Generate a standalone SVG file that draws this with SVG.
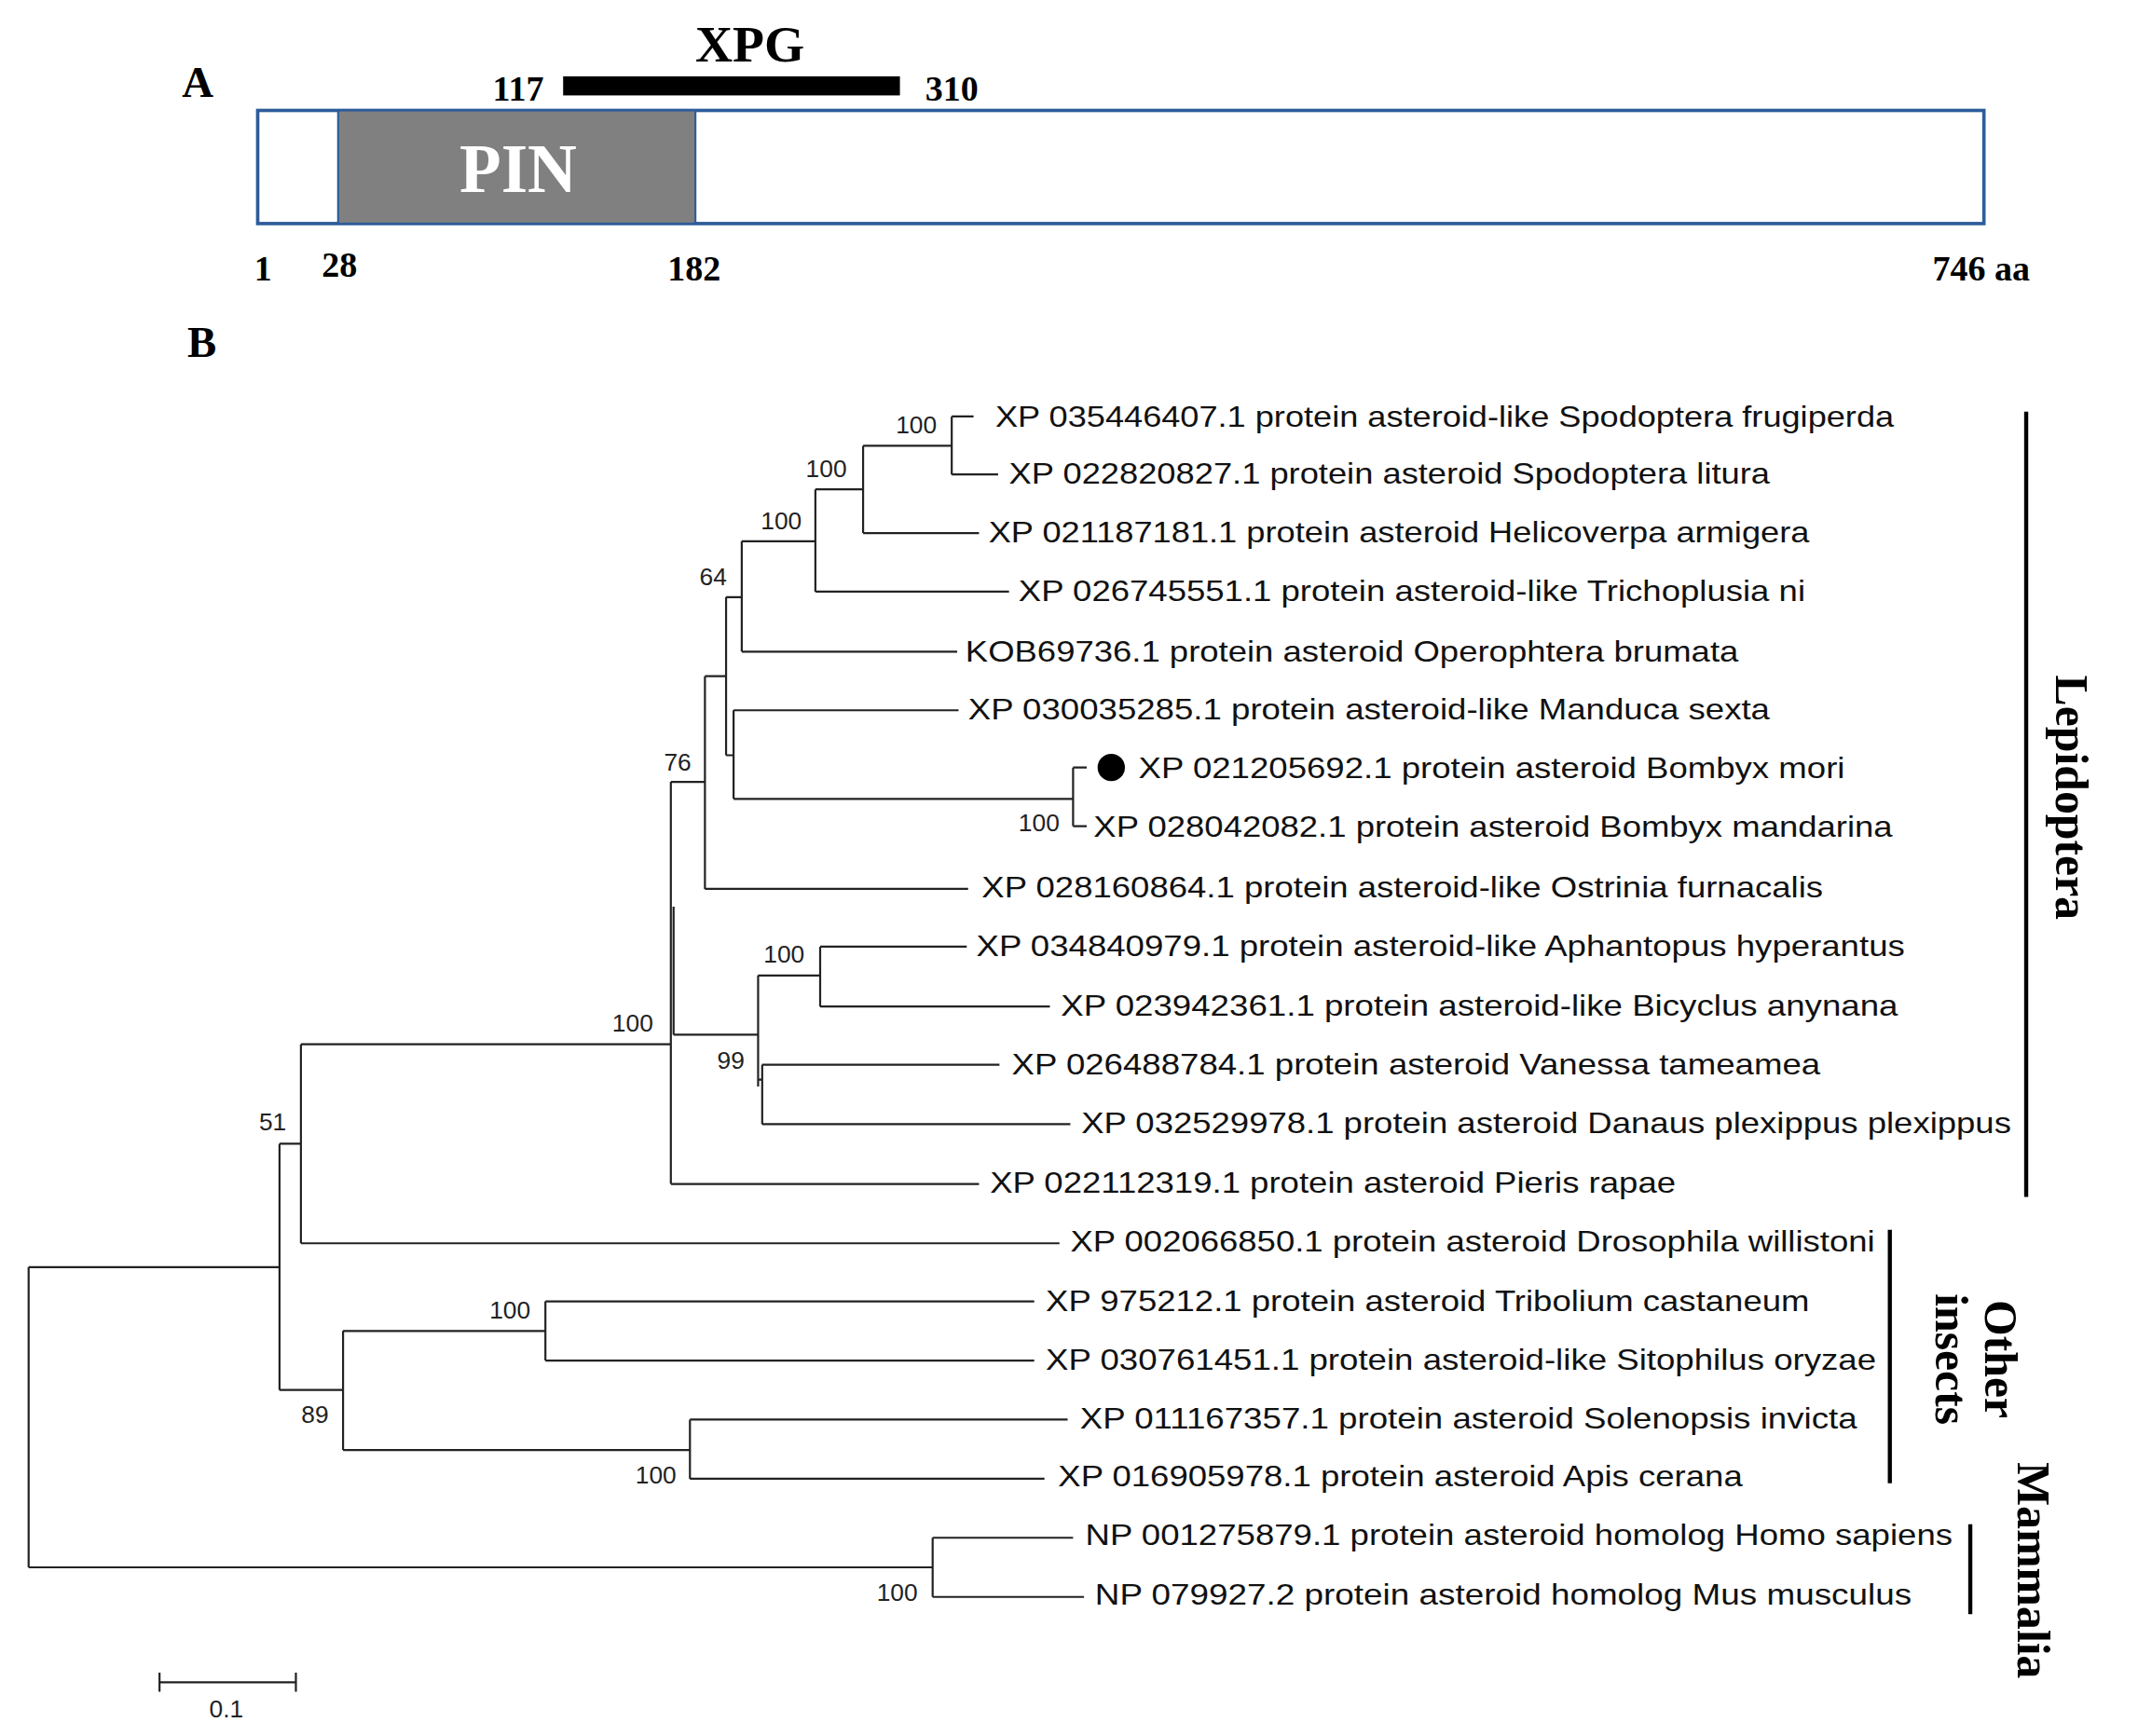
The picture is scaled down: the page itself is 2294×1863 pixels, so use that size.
<svg xmlns="http://www.w3.org/2000/svg" width="2294" height="1863" viewBox="0 0 2294 1863">
<style>
.ser{font-family:"Liberation Serif","DejaVu Serif",serif;font-weight:bold;fill:#000}
.lf{font-family:"Liberation Sans",Arial,sans-serif;font-size:22px;fill:#111}
.bs{font-family:"Liberation Sans",Arial,sans-serif;font-size:18px;fill:#222;text-anchor:middle}
.br{stroke:#222;stroke-width:1.5;fill:none}
.bar{stroke:#000;stroke-width:3;fill:none}
</style>
<rect width="2294" height="1863" fill="#fff"/>
<g transform="scale(1.46301)">
<g id="panelA">
<text class="ser" x="145" y="71" font-size="32" text-anchor="middle">A</text>
<rect x="189" y="81" width="1266" height="83" fill="#fff" stroke="#2e5c9a" stroke-width="2.5"/>
<g id="pin"><rect x="248" y="81" width="262" height="83" fill="#808080" stroke="#2e5c9a" stroke-width="1.5"/>
<text class="ser" x="380" y="141" font-size="50" text-anchor="middle" fill="#fff" style="fill:#fff">PIN</text></g>
<g id="xpg"><rect x="413" y="56" width="247" height="14" fill="#000"/>
<text class="ser" x="550" y="45" font-size="38" text-anchor="middle">XPG</text>
<text class="ser" x="380" y="74" font-size="26" text-anchor="middle">117</text>
<text class="ser" x="698" y="74" font-size="26" text-anchor="middle">310</text></g>
<text class="ser" x="193" y="206" font-size="26" text-anchor="middle">1</text>
<text class="ser" x="249" y="203" font-size="26" text-anchor="middle">28</text>
<text class="ser" x="509" y="206" font-size="26" text-anchor="middle">182</text>
<text class="ser" x="1453" y="206" font-size="26" text-anchor="middle">746 aa</text>
</g>
<text class="ser" x="148" y="262" font-size="32" text-anchor="middle">B</text>
<g id="connectors" class="br">
<path d="M21,929.5V1149.7M21,929.5H205M21,1149.7H684"/>
<path d="M205,839V1019.6M205,839H220.7M205,1019.6H251.6"/>
<path d="M220.7,766V912M220.7,766H492M220.7,912H777"/>
<path d="M492,573.5V868.5M494,665V759M492,573.5H517M492,868.5H718M494,759H556"/>
<path d="M517,496V652M517,496H532.5M517,652H710"/>
<path d="M532.5,438V554M532.5,438H544M532.5,554H538"/>
<path d="M544,397V478M544,397H598M544,478H702"/>
<path d="M598,359V434M598,359H633M598,434H740"/>
<path d="M633,327V391M633,327H698M633,391H718"/>
<path d="M698,305.5V348M698,305.5H714M698,348H732"/>
<path d="M538,521V586M538,521H703M538,586H787"/>
<path d="M787,563V606M787,563H797M787,606H797"/>
<path d="M556,715.5V797M556,715.5H601.5M556,792H559"/>
<path d="M601.5,694.4V738.3M601.5,694.4H709M601.5,738.3H770"/>
<path d="M559,781V824.6M559,781H733M559,824.6H785"/>
<path d="M251.6,976.3V1063.6M251.6,976.3H400M251.6,1063.6H506"/>
<path d="M400,954.6V998M400,954.6H758.5M400,998H758.5"/>
<path d="M506,1041.3V1084.7M506,1041.3H783M506,1084.7H766"/>
<path d="M684,1128V1171.4M684,1128H787M684,1171.4H795"/>
<path d="M117,1234H217M117,1227V1241M217,1227V1241"/>
</g>
<text class="bs" x="166" y="1260">0.1</text>
<g id="bootstrap">
<text class="bs" x="672" y="318">100</text>
<text class="bs" x="606" y="350">100</text>
<text class="bs" x="573" y="388">100</text>
<text class="bs" x="523" y="429">64</text>
<text class="bs" x="497" y="565">76</text>
<text class="bs" x="762" y="610">100</text>
<text class="bs" x="575" y="706">100</text>
<text class="bs" x="464" y="757">100</text>
<text class="bs" x="536" y="784">99</text>
<text class="bs" x="200" y="829">51</text>
<text class="bs" x="374" y="967">100</text>
<text class="bs" x="231" y="1044">89</text>
<text class="bs" x="481" y="1088">100</text>
<text class="bs" x="658" y="1174">100</text>
</g>
<g id="leaves">
<text class="lf" x="730" y="313" textLength="659" lengthAdjust="spacingAndGlyphs">XP 035446407.1 protein asteroid-like Spodoptera frugiperda</text>
<text class="lf" x="740" y="355" textLength="558" lengthAdjust="spacingAndGlyphs">XP 022820827.1 protein asteroid Spodoptera litura</text>
<text class="lf" x="725" y="398" textLength="602" lengthAdjust="spacingAndGlyphs">XP 021187181.1 protein asteroid Helicoverpa armigera</text>
<text class="lf" x="747" y="441" textLength="577" lengthAdjust="spacingAndGlyphs">XP 026745551.1 protein asteroid-like Trichoplusia ni</text>
<text class="lf" x="708" y="485" textLength="567" lengthAdjust="spacingAndGlyphs">KOB69736.1 protein asteroid Operophtera brumata</text>
<text class="lf" x="710" y="528" textLength="588" lengthAdjust="spacingAndGlyphs">XP 030035285.1 protein asteroid-like Manduca sexta</text>
<circle cx="815" cy="563" r="10" fill="#000"/>
<text class="lf" x="835" y="571" textLength="518" lengthAdjust="spacingAndGlyphs">XP 021205692.1 protein asteroid Bombyx mori</text>
<text class="lf" x="802" y="614" textLength="586" lengthAdjust="spacingAndGlyphs">XP 028042082.1 protein asteroid Bombyx mandarina</text>
<text class="lf" x="720" y="658" textLength="617" lengthAdjust="spacingAndGlyphs">XP 028160864.1 protein asteroid-like Ostrinia furnacalis</text>
<text class="lf" x="716" y="701" textLength="681" lengthAdjust="spacingAndGlyphs">XP 034840979.1 protein asteroid-like Aphantopus hyperantus</text>
<text class="lf" x="778" y="745" textLength="614" lengthAdjust="spacingAndGlyphs">XP 023942361.1 protein asteroid-like Bicyclus anynana</text>
<text class="lf" x="742" y="788" textLength="593" lengthAdjust="spacingAndGlyphs">XP 026488784.1 protein asteroid Vanessa tameamea</text>
<text class="lf" x="793" y="831" textLength="682" lengthAdjust="spacingAndGlyphs">XP 032529978.1 protein asteroid Danaus plexippus plexippus</text>
<text class="lf" x="726" y="875" textLength="503" lengthAdjust="spacingAndGlyphs">XP 022112319.1 protein asteroid Pieris rapae</text>
<text class="lf" x="785" y="918" textLength="590" lengthAdjust="spacingAndGlyphs">XP 002066850.1 protein asteroid Drosophila willistoni</text>
<text class="lf" x="767" y="962" textLength="560" lengthAdjust="spacingAndGlyphs">XP 975212.1 protein asteroid Tribolium castaneum</text>
<text class="lf" x="767" y="1005" textLength="609" lengthAdjust="spacingAndGlyphs">XP 030761451.1 protein asteroid-like Sitophilus oryzae</text>
<text class="lf" x="792" y="1048" textLength="570" lengthAdjust="spacingAndGlyphs">XP 011167357.1 protein asteroid Solenopsis invicta</text>
<text class="lf" x="776" y="1090" textLength="502" lengthAdjust="spacingAndGlyphs">XP 016905978.1 protein asteroid Apis cerana</text>
<text class="lf" x="796" y="1133" textLength="636" lengthAdjust="spacingAndGlyphs">NP 001275879.1 protein asteroid homolog Homo sapiens</text>
<text class="lf" x="803" y="1177" textLength="599" lengthAdjust="spacingAndGlyphs">NP 079927.2 protein asteroid homolog Mus musculus</text>
</g>
<g id="groups">
<path class="bar" d="M1486,302V878M1386,902V1088M1445,1118V1184"/>
<text class="ser" font-size="34" text-anchor="middle" transform="translate(1508,585) rotate(90)">Lepidoptera</text>
<text class="ser" font-size="34" text-anchor="middle" transform="translate(1456,997) rotate(90)">Other</text>
<text class="ser" font-size="34" text-anchor="middle" transform="translate(1420,997) rotate(90)">insects</text>
<text class="ser" font-size="34" text-anchor="middle" transform="translate(1480,1152) rotate(90)">Mammalia</text>
</g>
</g>
</svg>
